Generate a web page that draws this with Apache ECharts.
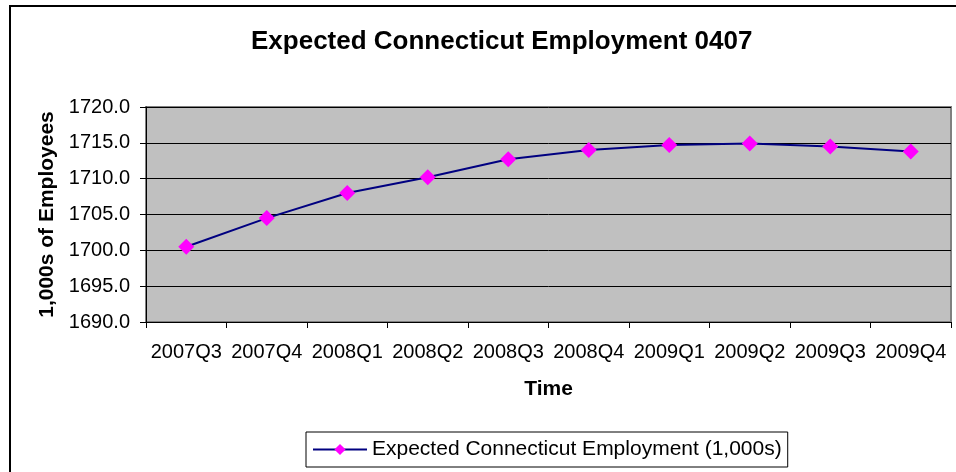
<!DOCTYPE html>
<html>
<head>
<meta charset="utf-8">
<script src="https://cdn.jsdelivr.net/npm/echarts@6/dist/echarts.min.js"></script>
<style>
  html, body { margin: 0; padding: 0; background: #fff; }
  #chart { width: 956px; height: 472px; }
</style>
</head>
<body>
<div id="chart"></div>
<script>
  var quarters = ['2007Q3', '2007Q4', '2008Q1', '2008Q2', '2008Q3', '2008Q4', '2009Q1', '2009Q2', '2009Q3', '2009Q4']
  var employment = [1700.5, 1704.5, 1708.0, 1710.2, 1712.7, 1714.0, 1714.7, 1714.9, 1714.5, 1713.8]
  var seriesName = 'Expected Connecticut Employment (1,000s)'

  var font = 'Liberation Sans, Arial, sans-serif'
  var myChart = echarts.init(document.getElementById('chart'))
  myChart.setOption({
    animation: false,
    textStyle: { fontFamily: font },
    title: {
      text: 'Expected Connecticut Employment 0407',
      left: 246,
      top: 24,
      textStyle: { fontFamily: font, fontSize: 26, fontWeight: 'bold', color: '#000' }
    },
    graphic: [
      {
        type: 'rect',
        shape: { x: 10, y: 6, width: 980, height: 500 },
        style: { fill: 'none', stroke: '#000', lineWidth: 2 },
        silent: true
      }
    ],
    legend: {
      data: [seriesName],
      left: 306,
      top: 432,
      itemWidth: 54,
      itemHeight: 14,
      itemGap: 5,
      padding: [7, 6, 7, 6],
      borderColor: '#000',
      borderWidth: 1,
      textStyle: { fontFamily: font, fontSize: 21, color: '#000' }
    },
    grid: {
      left: 146,
      right: 5,
      top: 107,
      bottom: 150,
      show: true,
      backgroundColor: '#C0C0C0',
      borderColor: '#808080',
      borderWidth: 2
    },
    xAxis: {
      type: 'category',
      data: quarters,
      name: 'Time',
      nameLocation: 'middle',
      nameGap: 57,
      nameTextStyle: { fontFamily: font, fontSize: 21, fontWeight: 'bold', color: '#000' },
      axisLine: { lineStyle: { color: '#000', width: 1 } },
      axisTick: { show: true, interval: 0, length: 6, lineStyle: { color: '#000' } },
      axisLabel: { interval: 0, color: '#000', fontSize: 20, fontFamily: font, margin: 20 },
      splitLine: { show: false }
    },
    yAxis: {
      type: 'value',
      min: 1690,
      max: 1720,
      interval: 5,
      name: '1,000s of Employees',
      nameLocation: 'middle',
      nameGap: 88,
      nameTextStyle: { fontFamily: font, fontSize: 21, fontWeight: 'bold', color: '#000' },
      axisLine: { show: true, lineStyle: { color: '#000', width: 1 } },
      axisTick: { show: true, length: 6, lineStyle: { color: '#000' } },
      axisLabel: {
        color: '#000',
        fontSize: 20,
        fontFamily: font,
        margin: 16,
        formatter: function (v) { return v.toFixed(1) }
      },
      splitLine: { show: true, lineStyle: { color: '#000', width: 1 } }
    },
    series: [
      {
        name: seriesName,
        type: 'line',
        data: employment,
        symbol: 'diamond',
        symbolSize: 16,
        color: '#FF00FF',
        itemStyle: { color: '#FF00FF' },
        lineStyle: { color: '#000080', width: 2 }
      }
    ]
  })
</script>
</body>
</html>
